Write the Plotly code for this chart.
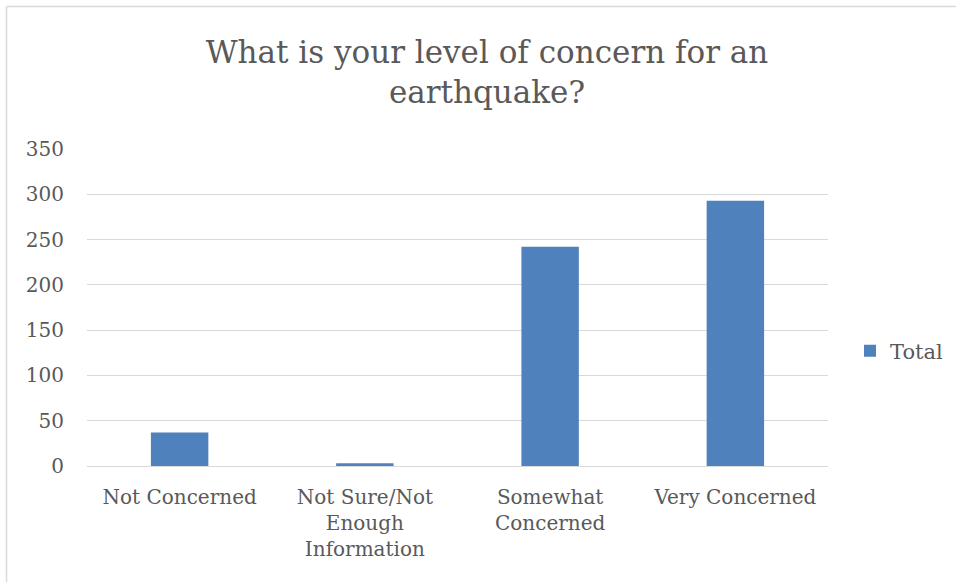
import plotly.graph_objects as go

# Survey responses: level of concern about an earthquake
categories = [
    "Not Concerned",
    "Not Sure/Not<br>Enough<br>Information",
    "Somewhat<br>Concerned",
    "Very Concerned",
]
totals = [37, 3, 242, 293]
y_ticks = [0, 50, 100, 150, 200, 250, 300, 350]

BAR_BLUE = "#4F81BD"
TEXT_GREY = "#595959"
GRID_GREY = "#D9D9D9"
SERIF = "'DejaVu Serif', serif"

fig = go.Figure(
    go.Bar(
        x=categories,
        y=totals,
        name="Total",
        marker=dict(color=BAR_BLUE, line=dict(width=0)),
        showlegend=True,
    )
)

# plot area geometry (pixels) used to place the outer chart frame
L, R, T, B, W, H = 87, 128, 149, 116, 956, 582
pw, ph = W - L - R, H - T - B
px = lambda x: (x - L) / pw
py = lambda y: (H - B - y) / ph

fig.update_layout(
    width=W,
    height=H,
    margin=dict(l=L, r=R, t=T, b=B, autoexpand=False),
    paper_bgcolor="white",
    plot_bgcolor="white",
    bargap=0.69,
    font=dict(family=SERIF, color=TEXT_GREY, size=20),
    title=dict(
        text="What is your level of concern for an<br>earthquake?",
        x=487 / W,
        xanchor="center",
        y=1 - 63 / H,
        yanchor="middle",
        font=dict(family=SERIF, size=31, color=TEXT_GREY),
    ),
    xaxis=dict(
        showgrid=False,
        showline=True,
        linecolor=GRID_GREY,
        linewidth=1,
        ticks="",
        ticklabelstandoff=13,
        tickfont=dict(size=20, color=TEXT_GREY),
        fixedrange=True,
    ),
    yaxis=dict(
        range=[0, 350],
        tickvals=y_ticks,
        showgrid=True,
        gridcolor=GRID_GREY,
        gridwidth=1,
        zeroline=False,
        showline=False,
        ticks="",
        ticklabelstandoff=22,
        tickfont=dict(size=20, color=TEXT_GREY),
        fixedrange=True,
    ),
    legend=dict(
        x=px(850),
        y=py(351),
        xanchor="left",
        yanchor="middle",
        font=dict(size=21, color=TEXT_GREY),
        bgcolor="rgba(0,0,0,0)",
    ),
    shapes=[
        dict(type="line", xref="paper", yref="paper",
             x0=px(6.5), x1=px(W + 5), y0=py(6.5), y1=py(6.5),
             line=dict(color=GRID_GREY, width=1.5)),
        dict(type="line", xref="paper", yref="paper",
             x0=px(6.5), x1=px(6.5), y0=py(6.5), y1=py(H + 5),
             line=dict(color=GRID_GREY, width=1.5)),
    ],
)

fig.write_html("out.html")
